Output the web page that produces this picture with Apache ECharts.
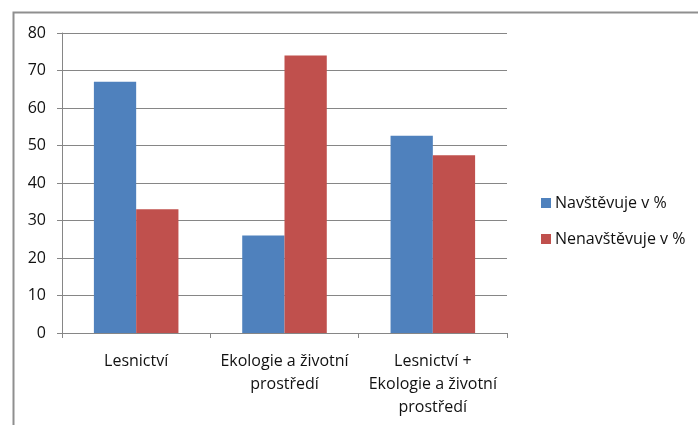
<!DOCTYPE html>
<html>
<head>
<meta charset="utf-8">
<script src="https://cdn.jsdelivr.net/npm/echarts@6/dist/echarts.min.js"></script>
<style>html,body{margin:0;padding:0;background:#fff;}#c{width:698px;height:425px;}</style>
</head>
<body>
<div id="c"></div>
<script>
const categories = ['Lesnictví', 'Ekologie a životní\nprostředí', 'Lesnictví +\nEkologie a životní\nprostředí'];
const navstevuje = [67, 26, 52.6];
const nenavstevuje = [33, 74, 47.4];
const seriesNames = ['Navštěvuje v %', 'Nenavštěvuje v %'];
const yTicks = { min: 0, max: 80, interval: 10 };

const font = '"Open Sans", "Liberation Sans", sans-serif';
const chart = echarts.init(document.getElementById('c'));
chart.setOption({
  animation: false,
  textStyle: { fontFamily: font },
  graphic: [{
    type: 'rect', left: 11, top: 10,
    shape: { width: 700, height: 430 },
    style: { fill: 'none', stroke: '#8f8f8f', lineWidth: 2 }
  }],
  grid: { left: 62, right: 191, top: 33, bottom: 92, containLabel: false },
  legend: {
    orient: 'vertical', left: 536, top: 190, itemGap: 20,
    itemWidth: 10, itemHeight: 10, icon: 'rect',
    textStyle: { fontSize: 16, color: '#111', fontFamily: font, padding: [0,0,0,-1] },
    data: seriesNames
  },
  xAxis: {
    type: 'category', data: categories,
    axisLine: { lineStyle: { color: '#868686', width: 1 } },
    axisTick: { show: true, length: 5, lineStyle: { color: '#868686' }, alignWithLabel: false },
    axisLabel: { fontSize: 16, color: '#111', margin: 17, lineHeight: 23, interval: 0, fontFamily: font }
  },
  yAxis: {
    type: 'value', min: yTicks.min, max: yTicks.max, interval: yTicks.interval,
    axisLine: { show: true, lineStyle: { color: '#868686' } },
    axisTick: { show: true, length: 5, lineStyle: { color: '#868686' } },
    splitLine: { lineStyle: { color: '#868686', width: 1 } },
    axisLabel: { fontSize: 16, color: '#111', margin: 16, fontFamily: font }
  },
  series: [
    { name: seriesNames[0], type: 'bar', data: navstevuje, barGap: '0%', barCategoryGap: '43%',
      itemStyle: { color: '#4F81BD' } },
    { name: seriesNames[1], type: 'bar', data: nenavstevuje, barGap: '0%', barCategoryGap: '43%',
      itemStyle: { color: '#C0504D' } }
  ]
});
</script>
</body>
</html>
